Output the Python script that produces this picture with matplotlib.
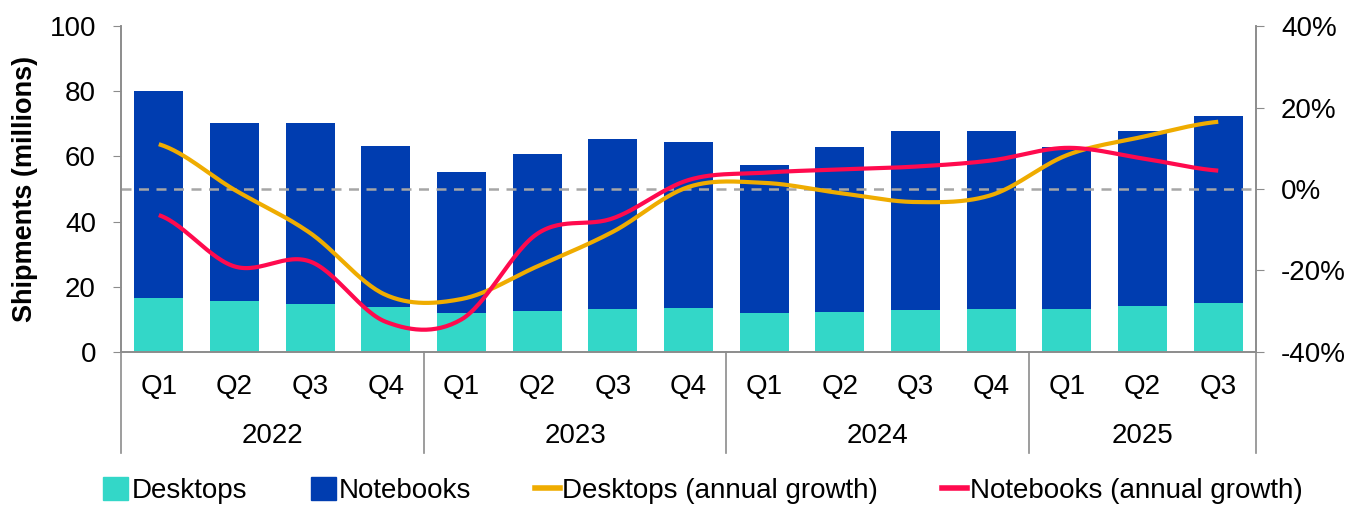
import numpy as np
import matplotlib
matplotlib.use("Agg")
import matplotlib.pyplot as plt
import matplotlib.transforms as mtransforms
from matplotlib.patches import Patch
from matplotlib.lines import Line2D

plt.rcParams['font.family'] = ['Liberation Sans', 'DejaVu Sans']

quarters = ['Q1', 'Q2', 'Q3', 'Q4', 'Q1', 'Q2', 'Q3', 'Q4',
            'Q1', 'Q2', 'Q3', 'Q4', 'Q1', 'Q2', 'Q3']
years = ['2022', '2023', '2024', '2025']
year_counts = [4, 4, 4, 3]

# shipments in millions
desktops = [16.5, 15.6, 14.7, 13.8, 12.0, 12.6, 13.2, 13.5,
            12.0, 12.3, 12.9, 13.2, 13.2, 14.1, 15.0]
total = [80.0, 70.2, 70.2, 63.2, 55.2, 60.7, 65.3, 64.4,
         57.4, 62.9, 67.8, 67.8, 62.9, 67.8, 72.4]
notebooks = [t - d for t, d in zip(total, desktops)]

# annual growth in %
desk_growth = [11.0, -0.2, -10.8, -26.0, -27.0, -19.0, -10.5, 0.5,
               1.5, -1.0, -3.2, -1.5, 8.3, 12.8, 16.5]
note_growth = [-6.4, -19.0, -17.8, -32.6, -32.0, -11.0, -7.2, 2.2,
               4.0, 4.8, 5.5, 7.0, 10.1, 7.5, 4.5]

c_desk = '#33D7C8'
c_note = '#003DB0'
c_dg = '#EFAC00'
c_ng = '#FF0A4E'
c_axis = '#8C8C8C'


def smooth(y, n=30):
    # catmull-rom, roughly what excel does for "smoothed line"
    y = np.asarray(y, dtype=float)
    p = np.concatenate([[y[0]], y, [y[-1]]])
    xs, ys = [], []
    for i in range(len(y) - 1):
        p0, p1, p2, p3 = p[i], p[i + 1], p[i + 2], p[i + 3]
        t = np.linspace(0, 1, n, endpoint=False)
        v = 0.5 * ((2 * p1) + (-p0 + p2) * t +
                   (2 * p0 - 5 * p1 + 4 * p2 - p3) * t ** 2 +
                   (-p0 + 3 * p1 - 3 * p2 + p3) * t ** 3)
        xs.append(i + t)
        ys.append(v)
    xs.append([len(y) - 1])
    ys.append([y[-1]])
    return np.concatenate(xs), np.concatenate(ys)


fig = plt.figure(figsize=(13.47, 5.05), dpi=100)
ax = fig.add_axes([0.0898, 0.303, 0.8427, 0.6455])
ax2 = ax.twinx()

x = np.arange(len(quarters))
ax.bar(x, desktops, width=0.65, color=c_desk, zorder=2)
ax.bar(x, notebooks, width=0.65, bottom=desktops, color=c_note, zorder=2)

ax.set_xlim(-0.5, 14.5)
ax.set_ylim(0, 100)
ax.set_yticks([0, 20, 40, 60, 80, 100])
ax.set_xticks(x)
ax.set_xticklabels(quarters)
ax.tick_params(axis='x', length=0, pad=16, labelsize=20)
ax.tick_params(axis='y', length=6, color=c_axis, labelsize=20, pad=12)
ax.set_ylabel('Shipments (millions)', fontsize=19.5, fontweight='bold', labelpad=8)

ax2.set_ylim(-40, 40)
ax2.set_yticks([-40, -20, 0, 20, 40])
ax2.set_yticklabels(['-40%', '-20%', '0%', '20%', '40%'])
ax2.tick_params(axis='y', length=6, color=c_axis, labelsize=20, pad=12)
ax2.axhline(0, color='#A6A6A6', lw=1.8, ls=(0, (4, 3)), zorder=1)

sx, sy = smooth(desk_growth)
ax2.plot(sx, sy, color=c_dg, lw=3, solid_capstyle='butt')
sx, sy = smooth(note_growth)
ax2.plot(sx, sy, color=c_ng, lw=3, solid_capstyle='butt')

for a in (ax, ax2):
    a.spines['top'].set_visible(False)
    for s in ('left', 'right', 'bottom'):
        a.spines[s].set_color(c_axis)
        a.spines[s].set_linewidth(1.2)

# group separators and year labels below the axis
trans = mtransforms.blended_transform_factory(ax.transData, ax.transAxes)
edges = np.concatenate([[0], np.cumsum(year_counts)]) - 0.5
for e in edges:
    ax.plot([e, e], [0, -0.31], color=c_axis, lw=1.2, transform=trans, clip_on=False)
for i, yr in enumerate(years):
    mid = (edges[i] + edges[i + 1]) / 2
    ax.text(mid, -0.258, yr, transform=trans, ha='center', va='center', fontsize=20)

handles = [Patch(color=c_desk, label='Desktops'),
           Patch(color=c_note, label='Notebooks'),
           Line2D([], [], color=c_dg, lw=4, label='Desktops (annual growth)'),
           Line2D([], [], color=c_ng, lw=4, label='Notebooks (annual growth)')]
fig.legend(handles=handles, loc='center', bbox_to_anchor=(0.522, 0.028), ncol=4,
           frameon=False, fontsize=20, handlelength=0.9, handleheight=0.9,
           handletextpad=0.1, columnspacing=2.3)

fig.savefig('out.png', dpi=100)
